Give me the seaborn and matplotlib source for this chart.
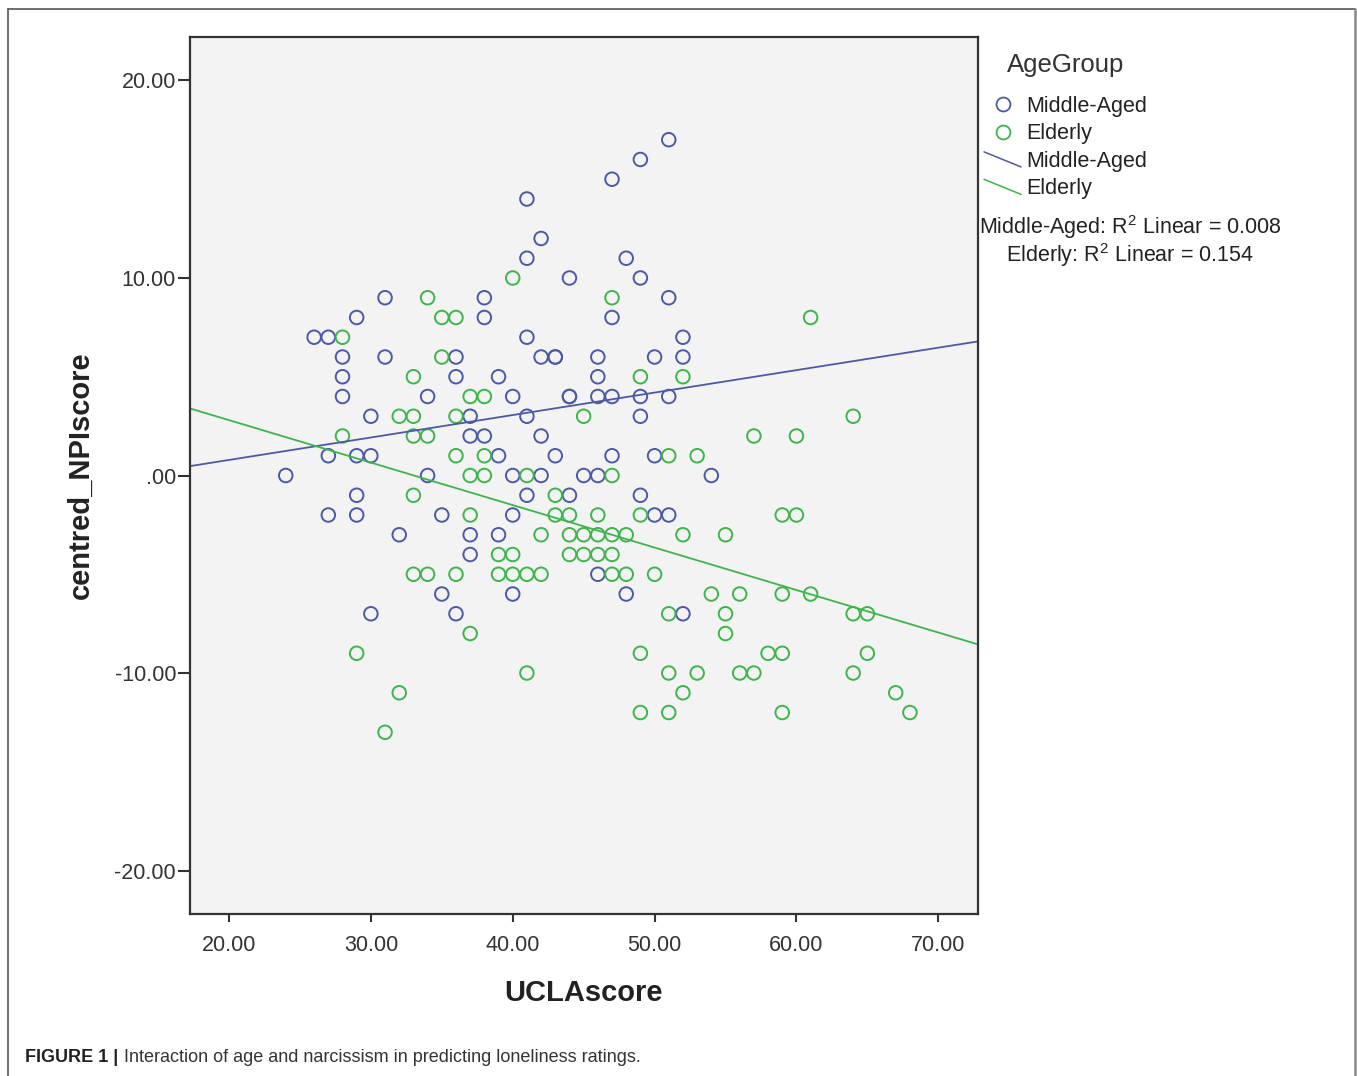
import numpy as np
import pandas as pd
import matplotlib
matplotlib.use('Agg')
import matplotlib.pyplot as plt
import seaborn as sns
from matplotlib.lines import Line2D
from matplotlib.legend_handler import HandlerBase
from matplotlib.ticker import FuncFormatter

# values (UCLAscore vs centred_NPIscore)
mid_ucla = [51, 49, 47, 41, 42, 41, 48, 44, 49, 31, 38, 51, 29, 38, 47,
            26, 27, 41, 52, 28, 31, 36, 42, 43, 43, 46, 50, 52,
            28, 36, 39, 46, 28, 34, 40, 44, 44, 46, 47, 49, 51,
            30, 37, 41, 49, 37, 38, 42, 27, 29, 30, 39, 43, 47, 50,
            24, 34, 40, 42, 45, 46, 54, 29, 41, 44, 49,
            27, 29, 35, 40, 50, 51, 32, 37, 39, 37, 46,
            35, 40, 48, 30, 36, 52]
mid_npi = [17, 16, 15, 14, 12, 11, 11, 10, 10, 9, 9, 9, 8, 8, 8,
           7, 7, 7, 7, 6, 6, 6, 6, 6, 6, 6, 6, 6,
           5, 5, 5, 5, 4, 4, 4, 4, 4, 4, 4, 4, 4,
           3, 3, 3, 3, 2, 2, 2, 1, 1, 1, 1, 1, 1, 1,
           0, 0, 0, 0, 0, 0, 0, -1, -1, -1, -1,
           -2, -2, -2, -2, -2, -2, -3, -3, -3, -4, -5,
           -6, -6, -6, -7, -7, -7]

eld_ucla = [40, 34, 47, 35, 36, 61, 28, 35, 33, 49, 52, 37, 38,
            32, 33, 36, 45, 64, 28, 33, 34, 57, 60, 36, 38, 51, 53,
            37, 38, 41, 47, 33, 43, 37, 43, 44, 46, 49, 59, 60,
            42, 44, 45, 46, 47, 48, 52, 55, 39, 40, 44, 45, 46, 47,
            33, 34, 36, 39, 40, 41, 42, 47, 48, 50, 54, 56, 59, 61,
            51, 55, 64, 65, 37, 55, 29, 49, 58, 59, 65,
            41, 51, 53, 56, 57, 64, 32, 52, 67, 49, 51, 59, 68, 31]
eld_npi = [10, 9, 9, 8, 8, 8, 7, 6, 5, 5, 5, 4, 4,
           3, 3, 3, 3, 3, 2, 2, 2, 2, 2, 1, 1, 1, 1,
           0, 0, 0, 0, -1, -1, -2, -2, -2, -2, -2, -2, -2,
           -3, -3, -3, -3, -3, -3, -3, -3, -4, -4, -4, -4, -4, -4,
           -5, -5, -5, -5, -5, -5, -5, -5, -5, -5, -6, -6, -6, -6,
           -7, -7, -7, -7, -8, -8, -9, -9, -9, -9, -9,
           -10, -10, -10, -10, -10, -10, -11, -11, -11, -12, -12, -12, -12, -13]

groups = ['Middle-Aged', 'Elderly']
r2_text = ['0.008', '0.154']

df = pd.concat([
    pd.DataFrame({'UCLAscore': mid_ucla, 'centred_NPIscore': mid_npi, 'AgeGroup': groups[0]}),
    pd.DataFrame({'UCLAscore': eld_ucla, 'centred_NPIscore': eld_npi, 'AgeGroup': groups[1]}),
])

colors = {'Middle-Aged': '#4C58A8', 'Elderly': '#3DB54A'}

sns.set_theme(style='white')
plt.rcParams['font.family'] = ['Liberation Sans', 'DejaVu Sans']
plt.rcParams['mathtext.default'] = 'regular'

W, H = 1357, 1076
fig = plt.figure(figsize=(W / 100, H / 100), dpi=100)
ax = fig.add_axes([190 / W, 1 - 914 / H, (978 - 190) / W, (914 - 37) / H])
ax.set_facecolor('#F3F3F3')
ax.set_xlim(17.25, 72.8)
ax.set_ylim(-22.2, 22.2)

for g in groups:
    sub = df[df['AgeGroup'] == g]
    sns.regplot(data=sub, x='UCLAscore', y='centred_NPIscore', ax=ax, ci=None, truncate=False,
                scatter_kws=dict(facecolors='none', edgecolors=colors[g], s=95, linewidths=1.4, alpha=1),
                line_kws=dict(color=colors[g], lw=1.3))

ax.set_xticks([20, 30, 40, 50, 60, 70])
ax.set_yticks([-20, -10, 0, 10, 20])
fmt = FuncFormatter(lambda v, p: '.00' if v == 0 else f'{v:.2f}')
ax.xaxis.set_major_formatter(fmt)
ax.yaxis.set_major_formatter(fmt)
ax.tick_params(axis='y', direction='out', length=9, width=1.5, color='#333333', pad=1,
               labelsize=15.5, labelcolor='#333333', left=True)
ax.tick_params(axis='x', direction='out', length=6, width=1.5, color='#333333', pad=9,
               labelsize=15.5, labelcolor='#333333', bottom=True)
for sp in ax.spines.values():
    sp.set_color('#333333')
    sp.set_linewidth(1.6)

ax.set_xlabel('UCLAscore', fontsize=21, fontweight='bold', color='#222222', labelpad=17)
ax.set_ylabel('centred_NPIscore', fontsize=21, fontweight='bold', color='#222222', labelpad=14)


class SlantHandler(HandlerBase):
    def create_artists(self, legend, orig_handle, xdescent, ydescent, width, height, fontsize, trans):
        ln = Line2D([-xdescent, width - xdescent], [height - ydescent, -ydescent],
                    color=orig_handle.get_color(), lw=orig_handle.get_linewidth())
        ln.set_transform(trans)
        return [ln]


handles = [Line2D([], [], ls='', marker='o', mfc='none', mec=colors[g], ms=10, mew=1.3) for g in groups]
line_handles = [Line2D([], [], color=colors[g], lw=1.1) for g in groups]
handler_map = {h: SlantHandler() for h in line_handles}
leg = fig.legend(handles + line_handles, groups + groups, loc='upper left',
                 bbox_to_anchor=(984 / W, 1 - 96 / H), frameon=False, fontsize=15.5,
                 borderpad=0, borderaxespad=0, handlelength=1.72, handletextpad=0.25,
                 labelspacing=0.3, handler_map=handler_map)
for t in leg.get_texts():
    t.set_color('#222222')

fig.text(1007 / W, 1 - 65 / H, 'AgeGroup', fontsize=18.5, color='#333333', va='center', ha='left')
fig.text(1130 / W, 1 - 227 / H, f'{groups[0]}: R$^2$ Linear = {r2_text[0]}', fontsize=15.5,
         color='#222222', va='center', ha='center')
fig.text(1130 / W, 1 - 255 / H, f'{groups[1]}: R$^2$ Linear = {r2_text[1]}', fontsize=15.5,
         color='#222222', va='center', ha='center')

# outer frame of the figure panel
fig.add_artist(Line2D([8 / W, 8 / W], [0, 1 - 9 / H], transform=fig.transFigure, color='#555555', lw=1.2))
fig.add_artist(Line2D([8 / W, 1355 / W], [1 - 9 / H, 1 - 9 / H], transform=fig.transFigure, color='#555555', lw=1.2))
fig.add_artist(Line2D([1355 / W, 1355 / W], [0, 1 - 9 / H], transform=fig.transFigure, color='#888888', lw=1.8))

fig.text(25 / W, 1 - 1057 / H, 'FIGURE 1 |', fontsize=13, fontweight='bold', color='#222222', va='center')
fig.text(124 / W, 1 - 1057 / H, 'Interaction of age and narcissism in predicting loneliness ratings.',
         fontsize=13, color='#333333', va='center')

fig.savefig('out.png', dpi=100)
